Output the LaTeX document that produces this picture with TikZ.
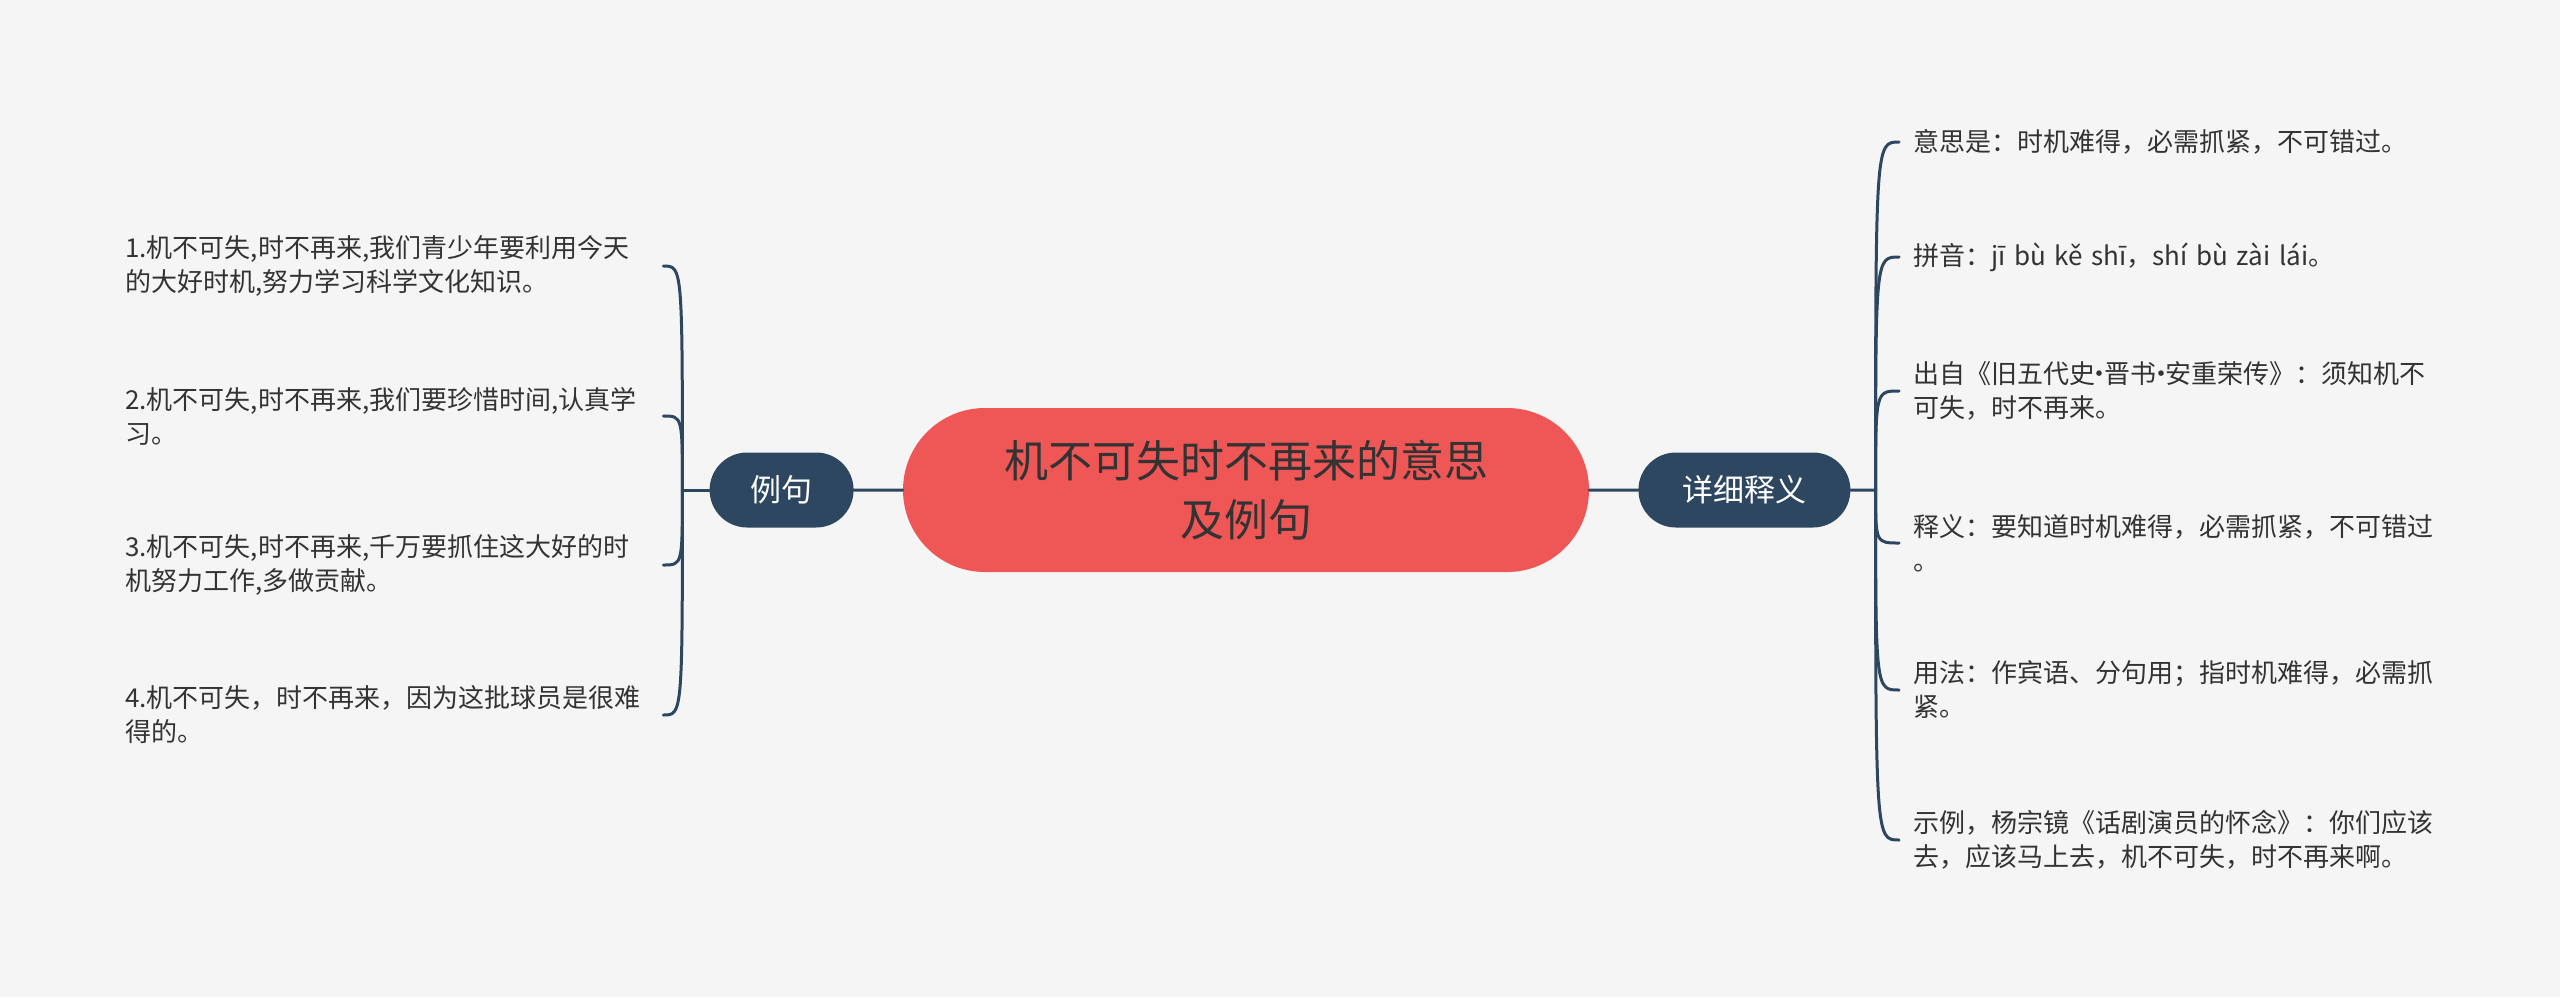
\documentclass[tikz,border=0pt]{standalone}
\usepackage{fontspec}
\setmainfont{Noto Sans CJK SC}
\usepackage{tikz}
\newcommand{\leafwidth}{524pt}
\newcommand{\pillheight}{75pt}
\newcommand{\middot}{\kern-0.32em·\kern-0.32em}
\usetikzlibrary{calc,positioning,shapes.misc}
\definecolor{bgrey}{HTML}{F5F5F5}
\definecolor{coral}{HTML}{EF5656}
\definecolor{navy}{HTML}{2E4760}
\definecolor{ink}{HTML}{333333}
\tikzset{
  root/.style={draw=none,fill=coral,text=ink,shape=rounded rectangle,minimum width=686pt,minimum height=164pt,inner sep=0,align=center,font=\fontsize{44pt}{59pt}\selectfont},
  topic/.style={draw=none,fill=navy,text=white,shape=rounded rectangle,minimum height=\pillheight,inner sep=0,font=\fontsize{31pt}{36pt}\selectfont},
  leaf/.style={text=ink,text width=\leafwidth,inner xsep=14pt,inner ysep=0,align=left,font=\fontsize{26pt}{34pt}\selectfont},
  line/.style={draw=navy,line width=3pt,line cap=round}
}

\begin{document}
\begin{tikzpicture}[x=1pt,y=-1pt]
    \fill [bgrey] (0,0) rectangle (2560,997);
    \useasboundingbox (0,0) rectangle (2560,997);

    \node (root) [root] at (1246,490) {机不可失时不再来的意思\\及例句};
    \node (lizi) [topic,minimum width=144pt,left=49pt of root] {例句};
    \node (shiyi) [topic,minimum width=212pt,right=49pt of root] {详细释义};
    \coordinate [left=27pt of lizi.west] (lhub);
    \coordinate [right=25pt of shiyi.east] (rhub);

    \node (l1) [leaf,anchor=west] at (111,266) {1.机不可失,时不再来,我们青少年要利用今天\\的大好时机,努力学习科学文化知识。};
    \node (l2) [leaf,anchor=west] at (111,416) {2.机不可失,时不再来,我们要珍惜时间,认真学\\习。};
    \node (l3) [leaf,anchor=west] at (111,565) {3.机不可失,时不再来,千万要抓住这大好的时\\机努力工作,多做贡献。};
    \node (l4) [leaf,anchor=west] at (111,715) {4.机不可失，时不再来，因为这批球员是很难\\得的。};

    \node (r1) [leaf,anchor=west] at (1899,142) {意思是：时机难得，必需抓紧，不可错过。};
    \node (r2) [leaf,anchor=west] at (1899,257) {拼音：jī bù kě shī，shí bù zài lái。};
    \node (r3) [leaf,anchor=west] at (1899,391) {出自《旧五代史\middot 晋书\middot 安重荣传》：须知机不\\可失，时不再来。};
    \node (r4) [leaf,anchor=west] at (1899,543) {释义：要知道时机难得，必需抓紧，不可错过\\。};
    \node (r5) [leaf,anchor=west] at (1899,690) {用法：作宾语、分句用；指时机难得，必需抓\\紧。};
    \node (r6) [leaf,anchor=west] at (1899,840) {示例，杨宗镜《话剧演员的怀念》：你们应该\\去，应该马上去，机不可失，时不再来啊。};

    \path [line] (root) -- (lizi);
    \path [line] (root) -- (shiyi);
    \path [line] (lizi) -- (lhub);
    \path [line] (shiyi) -- (rhub);
    \foreach \n in {l1,l2,l3,l4}
      \path [line] (lhub) .. controls (lhub |- \n.east) .. (\n.east);
    \foreach \n in {r1,r2,r3,r4,r5,r6}
      \path [line] (rhub) .. controls (rhub |- \n.west) .. (\n.west);
  \end{tikzpicture}
\end{document}
